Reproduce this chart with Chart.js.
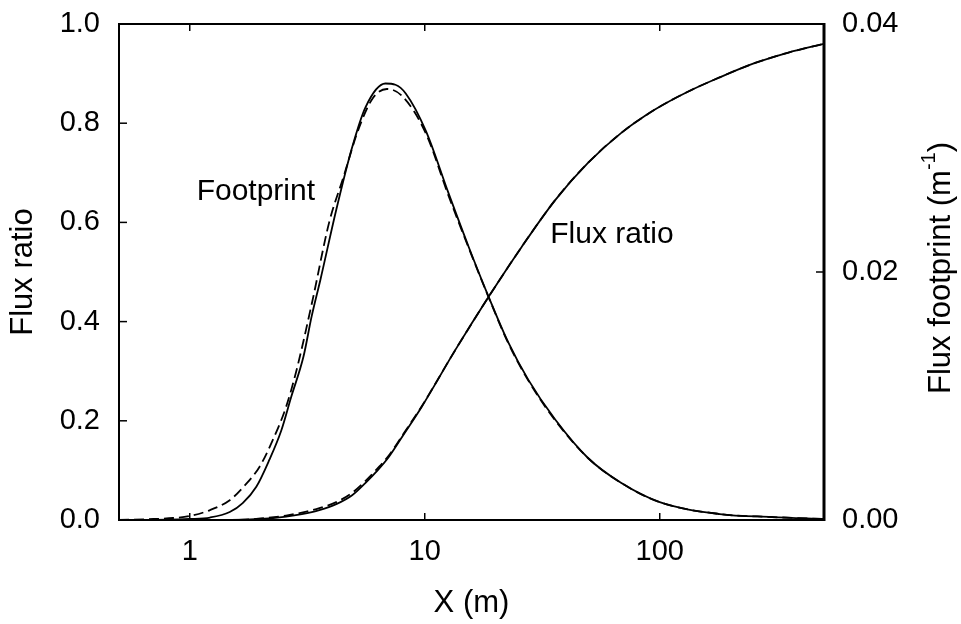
<!DOCTYPE html>
<html lang="en">
<head>
    <meta charset="UTF-8">
    <title>Flux ratio and flux footprint</title>
    <script src="https://cdn.jsdelivr.net/npm/chart.js"></script>
    <style>
        html, body { margin: 0; padding: 0; background: #fff; }
        #wrap { width: 961px; height: 624px; }
    </style>
</head>
<body>
<div id="wrap"><canvas id="fluxChart" width="961" height="624"></canvas></div>
<script>
    // values (x in m)
    const footprintX = [0.5, 0.8, 1.0, 1.22, 1.48, 1.68, 1.92, 2.18, 2.45, 2.7, 3.05, 3.3, 3.6, 4.2, 4.9, 5.6, 6.8, 7.5, 8.3, 10.1, 12.6, 15.4, 18.7, 22.7, 27.6, 35.9, 49.5, 68.4, 100, 180, 300, 500];
    const footprintSolid = [0, 0.00002, 0.00008, 0.0002, 0.00064, 0.00136, 0.00268, 0.00484, 0.0072, 0.0099, 0.0132, 0.0164, 0.0194, 0.025, 0.03, 0.0333, 0.0352, 0.0351, 0.0344, 0.0314, 0.0264, 0.022, 0.018, 0.0143, 0.0113, 0.0081, 0.005, 0.003, 0.00144, 0.00048, 0.00024, 0.00008];

    const footprintDashX = [0.5, 0.7, 0.85, 1.0, 1.22, 1.48, 1.68, 1.98, 2.25, 2.57, 2.84, 3.32, 3.92, 4.5, 5.2, 6.0, 6.9, 8.0, 10.1, 12.6, 15.4, 18.7, 22.7, 27.6, 35.9, 49.5, 68.4, 100, 180, 300, 500];
    const footprintDashed = [0, 0.00008, 0.00016, 0.00032, 0.0008, 0.0016, 0.0026, 0.00428, 0.0064, 0.00912, 0.012, 0.0176, 0.024, 0.0276, 0.0314, 0.034, 0.03476, 0.0342, 0.0312, 0.0262, 0.02192, 0.01796, 0.01424, 0.01124, 0.00804, 0.005, 0.003, 0.00144, 0.00048, 0.00024, 0.00008];

    const ratioX = [0.5, 1.5, 2.0, 2.57, 3.0, 3.56, 4.2, 4.91, 5.6, 6.3, 7.03, 8.2, 9.7, 13.5, 18.7, 25.8, 35.9, 49.5, 68.4, 95, 131, 181, 253, 350, 500];
    const ratioSolid = [0, 0, 0.002, 0.007, 0.012, 0.02, 0.032, 0.05, 0.075, 0.1, 0.127, 0.175, 0.228, 0.343, 0.45, 0.55, 0.645, 0.72, 0.78, 0.827, 0.863, 0.893, 0.921, 0.942, 0.96];
    const ratioDashed = [0, 0, 0.003, 0.009, 0.015, 0.024, 0.036, 0.055, 0.079, 0.104, 0.13, 0.177, 0.229, 0.343, 0.45, 0.55, 0.645, 0.72, 0.78, 0.827, 0.863, 0.893, 0.921, 0.942, 0.96];

    const xTicks = [1, 10, 100];
    const yTicks = [0, 0.2, 0.4, 0.6, 0.8, 1.0];
    const y2Ticks = [0, 0.02, 0.04];

    const rightTitle = ['Flux footprint (m', '-1', ')'];

    Chart.defaults.font.family = '"Liberation Sans", Arial, sans-serif';
    Chart.defaults.color = '#000';

    function pts(xs, ys) {
        return xs.map((x, i) => ({ x: x, y: ys[i] }));
    }

    function setTicks(values) {
        return scale => { scale.ticks = values.map(v => ({ value: v })); };
    }

    // fixed box sizes so the plot area sits where the figure has it
    function fixBox(w, h) {
        return s => {
            if (w) s.width = w;
            if (h) s.height = h;
            s.paddingTop = 0; s.paddingBottom = 0;
            s.paddingLeft = 0; s.paddingRight = 0;
        };
    }

    // frame, inward tick marks, right title and in-plot labels
    const framePlugin = {
        id: 'frame',
        afterDraw(chart) {
            const { ctx, chartArea: a, scales } = chart;
            ctx.save();
            ctx.strokeStyle = '#000';
            ctx.lineWidth = 1.5;
            const line = (x1, y1, x2, y2) => {
                ctx.beginPath(); ctx.moveTo(x1, y1); ctx.lineTo(x2, y2); ctx.stroke();
            };
            xTicks.forEach(v => {
                const px = scales.x.getPixelForValue(v);
                line(px, a.bottom, px, a.bottom - 7);
                line(px, a.top, px, a.top + 7);
            });
            yTicks.forEach(v => {
                const py = scales.y.getPixelForValue(v);
                line(a.left, py, a.left + 8, py);
            });
            y2Ticks.forEach(v => {
                const py = scales.y2.getPixelForValue(v);
                line(a.right, py, a.right - 8, py);
            });
            ctx.lineWidth = 2;
            line(a.left, a.top, a.right, a.top);
            line(a.left, a.bottom, a.right, a.bottom);
            line(a.left, a.top - 1, a.left, a.bottom + 1);
            ctx.lineWidth = 3;
            line(a.right, a.top - 1, a.right, a.bottom + 1);

            // labels inside the plot
            ctx.fillStyle = '#000';
            ctx.font = '30px "Liberation Sans", Arial, sans-serif';
            ctx.textAlign = 'left';
            ctx.textBaseline = 'alphabetic';
            ctx.fillText('Footprint', scales.x.getPixelForValue(1.07), scales.y.getPixelForValue(0.645));
            ctx.fillText('Flux ratio', scales.x.getPixelForValue(34.2), scales.y.getPixelForValue(0.558));

            // right axis title with superscript
            const big = '31px "Liberation Sans", Arial, sans-serif';
            const small = '20px "Liberation Sans", Arial, sans-serif';
            ctx.font = big;
            const w1 = ctx.measureText(rightTitle[0]).width;
            const w3 = ctx.measureText(rightTitle[2]).width;
            ctx.font = small;
            const w2 = ctx.measureText(rightTitle[1]).width;
            const total = w1 + w2 + w3;
            ctx.translate(941, (a.top + a.bottom) / 2 - 4);
            ctx.rotate(-Math.PI / 2);
            ctx.textBaseline = 'middle';
            let cx = -total / 2;
            ctx.font = big;
            ctx.fillText(rightTitle[0], cx, 0);
            cx += w1;
            ctx.font = small;
            ctx.fillText(rightTitle[1], cx, -12);
            cx += w2;
            ctx.font = big;
            ctx.fillText(rightTitle[2], cx, 0);
            ctx.restore();
        }
    };

    const lineStyle = { borderColor: '#000', borderWidth: 1.8, pointRadius: 0, cubicInterpolationMode: 'monotone', fill: false };

    new Chart(document.getElementById('fluxChart'), {
        type: 'line',
        data: {
            datasets: [
                { label: 'Footprint', data: pts(footprintX, footprintSolid), yAxisID: 'y2', ...lineStyle },
                { label: 'Footprint (dashed)', data: pts(footprintDashX, footprintDashed), yAxisID: 'y2', borderDash: [10, 5], ...lineStyle },
                { label: 'Flux ratio', data: pts(ratioX, ratioSolid), yAxisID: 'y', ...lineStyle },
                { label: 'Flux ratio (dashed)', data: pts(ratioX, ratioDashed), yAxisID: 'y', borderDash: [10, 5], ...lineStyle }
            ]
        },
        options: {
            responsive: false,
            animation: false,
            layout: { padding: { top: 24, left: 0, right: 0, bottom: 0 } },
            plugins: { legend: { display: false }, tooltip: { enabled: false } },
            scales: {
                x: {
                    type: 'logarithmic',
                    min: 0.5,
                    max: 500,
                    grid: { display: false, drawTicks: false },
                    border: { display: false },
                    afterBuildTicks: setTicks(xTicks),
                    afterFit: fixBox(0, 104),
                    ticks: { autoSkip: false, maxRotation: 0, padding: 15, font: { size: 29 }, callback: v => String(v) },
                    title: { display: true, text: 'X (m)', font: { size: 31 }, padding: { top: 0, bottom: 2 } }
                },
                y: {
                    position: 'left',
                    min: 0,
                    max: 1,
                    grid: { display: false, drawTicks: false },
                    border: { display: false },
                    afterBuildTicks: setTicks(yTicks),
                    afterFit: fixBox(119, 0),
                    ticks: { padding: 19, font: { size: 29 }, callback: v => v.toFixed(1) },
                    title: { display: true, text: 'Flux ratio', font: { size: 31 }, padding: { top: 5, bottom: 0 } }
                },
                y2: {
                    position: 'right',
                    min: 0,
                    max: 0.04,
                    grid: { display: false, drawTicks: false },
                    border: { display: false },
                    afterBuildTicks: setTicks(y2Ticks),
                    afterFit: fixBox(137, 0),
                    ticks: { padding: 18, font: { size: 29 }, callback: v => v.toFixed(2) }
                }
            }
        },
        plugins: [framePlugin]
    });
</script>
</body>
</html>
